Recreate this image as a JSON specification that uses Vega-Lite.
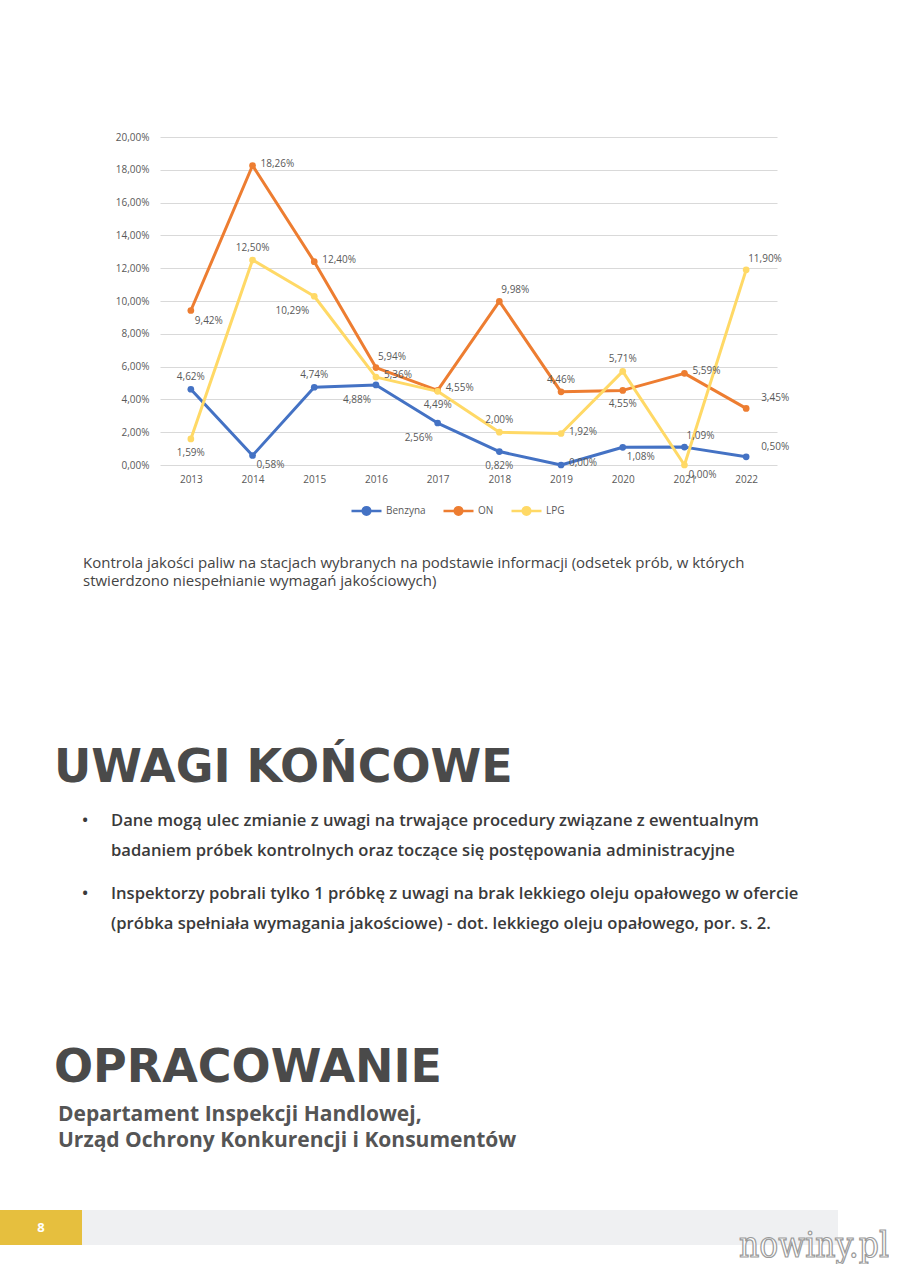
{
  "$schema": "https://vega.github.io/schema/vega-lite/v6.json",
  "padding": {"left": 0, "top": 132, "right": 0, "bottom": 0},
  "background": "white",
  "spacing": 0,
  "config": {
    "font": "Open Sans",
    "view": {"stroke": null},
    "locale": {"number": {"decimal": ",", "thousands": " ", "grouping": [3], "currency": ["", " zł"]}},
    "axis": {"labelFont": "Open Sans", "labelFontSize": 10, "labelColor": "#595959"},
    "legend": {"labelFont": "Open Sans", "labelFontSize": 10, "labelColor": "#595959"}
  },
  "vconcat": [
    {
      "spacing": 0,
      "hconcat": [
        {"width": 115, "height": 10, "data": {"values": []}, "mark": "point"},
        {
          "width": 617,
          "height": 328,
          "data": {"values": [
            {"s": "Benzyna", "rok": "2013", "v": 0.0462},
            {"s": "Benzyna", "rok": "2014", "v": 0.0058},
            {"s": "Benzyna", "rok": "2015", "v": 0.0474},
            {"s": "Benzyna", "rok": "2016", "v": 0.0488},
            {"s": "Benzyna", "rok": "2017", "v": 0.0256},
            {"s": "Benzyna", "rok": "2018", "v": 0.0082},
            {"s": "Benzyna", "rok": "2019", "v": 0.0},
            {"s": "Benzyna", "rok": "2020", "v": 0.0108},
            {"s": "Benzyna", "rok": "2021", "v": 0.0109},
            {"s": "Benzyna", "rok": "2022", "v": 0.005},
            {"s": "ON", "rok": "2013", "v": 0.0942},
            {"s": "ON", "rok": "2014", "v": 0.1826},
            {"s": "ON", "rok": "2015", "v": 0.124},
            {"s": "ON", "rok": "2016", "v": 0.0594},
            {"s": "ON", "rok": "2017", "v": 0.0455},
            {"s": "ON", "rok": "2018", "v": 0.0998},
            {"s": "ON", "rok": "2019", "v": 0.0446},
            {"s": "ON", "rok": "2020", "v": 0.0455},
            {"s": "ON", "rok": "2021", "v": 0.0559},
            {"s": "ON", "rok": "2022", "v": 0.0345},
            {"s": "LPG", "rok": "2013", "v": 0.0159},
            {"s": "LPG", "rok": "2014", "v": 0.125},
            {"s": "LPG", "rok": "2015", "v": 0.1029},
            {"s": "LPG", "rok": "2016", "v": 0.0536},
            {"s": "LPG", "rok": "2017", "v": 0.0449},
            {"s": "LPG", "rok": "2018", "v": 0.02},
            {"s": "LPG", "rok": "2019", "v": 0.0192},
            {"s": "LPG", "rok": "2020", "v": 0.0571},
            {"s": "LPG", "rok": "2021", "v": 0.0},
            {"s": "LPG", "rok": "2022", "v": 0.119}
          ]},
          "encoding": {
            "x": {"field": "rok", "type": "ordinal", "scale": {"type": "point", "padding": 0.5},
                  "axis": {"title": null, "ticks": false, "domain": false, "labelAngle": 0, "labelPadding": 9, "grid": false}},
            "y": {"field": "v", "type": "quantitative", "scale": {"domain": [0, 0.2], "nice": false},
                  "axis": {"title": null, "values": [0, 0.02, 0.04, 0.06, 0.08, 0.1, 0.12, 0.14, 0.16, 0.18, 0.2], "format": ".2%", "ticks": false, "domain": false, "labelPadding": 11, "grid": true, "gridColor": "#d9d9d9", "gridWidth": 1}}
          },
          "layer": [
            {
              "mark": {"type": "line", "strokeWidth": 3, "strokeCap": "round", "strokeJoin": "round"},
              "encoding": {
                "color": {"field": "s", "type": "nominal",
                  "scale": {"domain": ["Benzyna", "ON", "LPG"], "range": ["#4472c4", "#ed7d31", "#ffd966"]},
                  "legend": {"title": null, "orient": "none", "legendX": 350, "legendY": 357, "direction": "horizontal",
                    "symbolType": "M-1,0L1,0M0.25,0A0.25,0.25,0,1,1,-0.25,0A0.25,0.25,0,1,1,0.25,0",
                    "symbolSize": 900, "symbolStrokeWidth": 2.5, "labelOffset": 3, "columnPadding": 12,
                    "encode": {"symbols": {"update": {"fill": {"scale": "color", "field": "value"}, "stroke": {"scale": "color", "field": "value"}}}}}
                }
              }
            },
            {
              "mark": {"type": "point", "filled": true, "size": 45, "opacity": 1},
              "encoding": {"color": {"field": "s", "type": "nominal"}}
            },
            {
              "transform": [{"filter": "indexof(['Benzyna2013','Benzyna2015','ON2019','LPG2014','LPG2018','LPG2020'], datum.s + datum.rok) >= 0"}],
              "mark": {"type": "text", "align": "center", "baseline": "middle", "dy": -12, "fontSize": 10, "color": "#595959"},
              "encoding": {"text": {"field": "v", "type": "quantitative", "format": ".2%"}}
            },
            {
              "transform": [{"filter": "indexof(['Benzyna2018','ON2020','LPG2013','LPG2017'], datum.s + datum.rok) >= 0"}],
              "mark": {"type": "text", "align": "center", "baseline": "middle", "dy": 14, "fontSize": 10, "color": "#595959"},
              "encoding": {"text": {"field": "v", "type": "quantitative", "format": ".2%"}}
            },
            {
              "transform": [{"filter": "indexof(['ON2014','ON2015','ON2017','ON2021','LPG2016','LPG2019','Benzyna2019'], datum.s + datum.rok) >= 0"}],
              "mark": {"type": "text", "align": "left", "baseline": "middle", "dx": 8, "dy": -2, "fontSize": 10, "color": "#595959"},
              "encoding": {"text": {"field": "v", "type": "quantitative", "format": ".2%"}}
            },
            {
              "transform": [{"filter": "indexof(['ON2016','ON2018','Benzyna2021','LPG2022'], datum.s + datum.rok) >= 0"}],
              "mark": {"type": "text", "align": "left", "baseline": "middle", "dx": 2, "dy": -11, "fontSize": 10, "color": "#595959"},
              "encoding": {"text": {"field": "v", "type": "quantitative", "format": ".2%"}}
            },
            {
              "transform": [{"filter": "indexof(['Benzyna2014','ON2013','Benzyna2020','LPG2021'], datum.s + datum.rok) >= 0"}],
              "mark": {"type": "text", "align": "left", "baseline": "middle", "dx": 4, "dy": 10, "fontSize": 10, "color": "#595959"},
              "encoding": {"text": {"field": "v", "type": "quantitative", "format": ".2%"}}
            },
            {
              "transform": [{"filter": "indexof(['Benzyna2016','Benzyna2017','LPG2015'], datum.s + datum.rok) >= 0"}],
              "mark": {"type": "text", "align": "right", "baseline": "middle", "dx": -5, "dy": 15, "fontSize": 10, "color": "#595959"},
              "encoding": {"text": {"field": "v", "type": "quantitative", "format": ".2%"}}
            },
            {
              "transform": [{"filter": "indexof(['Benzyna2022','ON2022'], datum.s + datum.rok) >= 0"}],
              "mark": {"type": "text", "align": "left", "baseline": "middle", "dx": 15, "dy": -10, "fontSize": 10, "color": "#595959"},
              "encoding": {"text": {"field": "v", "type": "quantitative", "format": ".2%"}}
            }
          ]
        }
      ]
    },
    {
      "width": 166,
      "height": 166,
      "data": {"values": [
        {"n": 1, "t": "Kontrola jakości paliw na stacjach wybranych na podstawie informacji (odsetek prób, w których"},
        {"n": 2, "t": "stwierdzono niespełnianie wymagań jakościowych)"}
      ]},
      "mark": {"type": "text", "align": "left", "baseline": "alphabetic", "fontSize": 15, "color": "#444444"},
      "encoding": {
        "y": {"field": "n", "type": "quantitative", "axis": null, "scale": {"domain": [-3.763, 5.616], "nice": false, "zero": false, "reverse": true}},
        "text": {"field": "t"}
      }
    },
    {
      "width": 108,
      "height": 150,
      "data": {"values": [{"n": 1, "t": "UWAGI KOŃCOWE"}]},
      "mark": {"type": "text", "align": "left", "baseline": "alphabetic", "font": "DejaVu Sans", "fontWeight": "bold", "fontSize": 46, "color": "#4a4a4a"},
      "encoding": {
        "y": {"field": "n", "type": "quantitative", "axis": null, "scale": {"domain": [0, 1.13636], "nice": false, "zero": false, "reverse": true}},
        "text": {"field": "t"}
      }
    },
    {
      "width": 170,
      "height": 75,
      "data": {"values": [
        {"n": 1, "b": "•", "t": "Dane mogą ulec zmianie z uwagi na trwające procedury związane z ewentualnym"},
        {"n": 2, "b": "", "t": "badaniem próbek kontrolnych oraz toczące się postępowania administracyjne"}
      ]},
      "encoding": {
        "y": {"field": "n", "type": "quantitative", "axis": null, "scale": {"domain": [0.15, 2.65], "nice": false, "zero": false, "reverse": true}}
      },
      "layer": [
        {"mark": {"type": "text", "align": "center", "baseline": "alphabetic", "fontSize": 16.6, "fontWeight": 600, "color": "#3a3a3a"},
         "encoding": {"text": {"field": "b"}}},
        {"mark": {"type": "text", "align": "left", "baseline": "alphabetic", "dx": 26, "fontSize": 16.6, "fontWeight": 600, "color": "#3a3a3a"},
         "encoding": {"text": {"field": "t"}}}
      ]
    },
    {
      "width": 170,
      "height": 85,
      "data": {"values": [
        {"n": 1, "b": "•", "t": "Inspektorzy pobrali tylko 1 próbkę z uwagi na brak lekkiego oleju opałowego w ofercie"},
        {"n": 2, "b": "", "t": "(próbka spełniała wymagania jakościowe) - dot. lekkiego oleju opałowego, por. s. 2."}
      ]},
      "encoding": {
        "y": {"field": "n", "type": "quantitative", "axis": null, "scale": {"domain": [0.2, 3.0333], "nice": false, "zero": false, "reverse": true}}
      },
      "layer": [
        {"mark": {"type": "text", "align": "center", "baseline": "alphabetic", "fontSize": 16.6, "fontWeight": 600, "color": "#3a3a3a"},
         "encoding": {"text": {"field": "b"}}},
        {"mark": {"type": "text", "align": "left", "baseline": "alphabetic", "dx": 26, "fontSize": 16.6, "fontWeight": 600, "color": "#3a3a3a"},
         "encoding": {"text": {"field": "t"}}}
      ]
    },
    {
      "width": 108,
      "height": 135,
      "data": {"values": [{"n": 1, "t": "OPRACOWANIE"}]},
      "mark": {"type": "text", "align": "left", "baseline": "alphabetic", "font": "DejaVu Sans", "fontWeight": "bold", "fontSize": 46, "color": "#4a4a4a"},
      "encoding": {
        "y": {"field": "n", "type": "quantitative", "axis": null, "scale": {"domain": [0, 1.10656], "nice": false, "zero": false, "reverse": true}},
        "text": {"field": "t"}
      }
    },
    {
      "width": 116,
      "height": 115,
      "data": {"values": [
        {"n": 1, "t": "Departament Inspekcji Handlowej,"},
        {"n": 2, "t": "Urząd Ochrony Konkurencji i Konsumentów"}
      ]},
      "mark": {"type": "text", "align": "left", "baseline": "alphabetic", "fontSize": 21, "fontWeight": "bold", "color": "#555555"},
      "encoding": {
        "y": {"field": "n", "type": "quantitative", "axis": null, "scale": {"domain": [0, 4.423], "nice": false, "zero": false, "reverse": true}},
        "text": {"field": "t"}
      }
    },
    {
      "spacing": 0,
      "hconcat": [
        {
          "width": 82,
          "height": 35,
          "view": {"fill": "#e6bf3e", "stroke": null},
          "data": {"values": [{"t": "8"}]},
          "mark": {"type": "text", "align": "center", "baseline": "middle", "fontSize": 13, "fontWeight": "bold", "color": "#ffffff"},
          "encoding": {"text": {"field": "t"}}
        },
        {
          "width": 756,
          "height": 35,
          "view": {"fill": "#eff0f2", "stroke": null},
          "data": {"values": [{"t": "nowiny.pl"}]},
          "mark": {"type": "text", "align": "center", "baseline": "middle", "dx": 354, "dy": 18, "font": "DejaVu Serif Condensed", "fontSize": 35, "color": "#ffffff", "stroke": "#9a9a9a", "strokeWidth": 1.2},
          "encoding": {"text": {"field": "t"}}
        }
      ]
    }
  ]
}
